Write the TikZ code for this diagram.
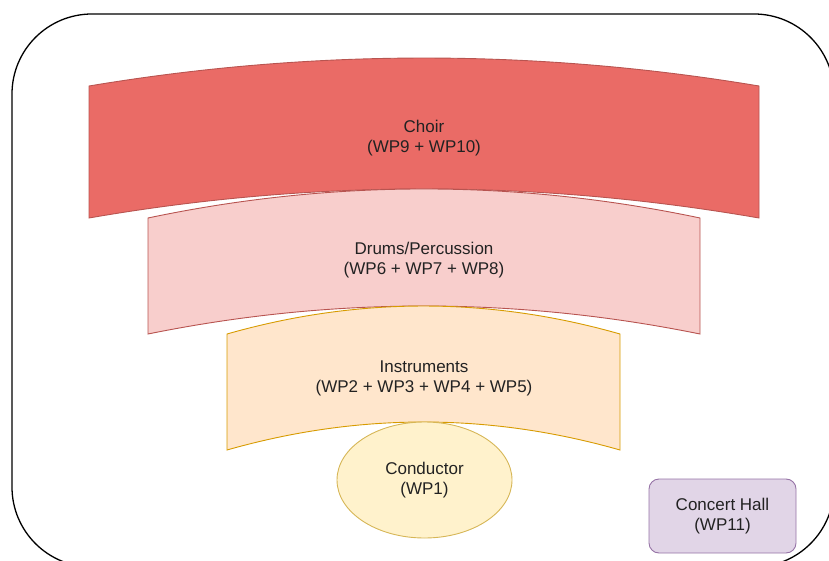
\documentclass[tikz,border=0pt]{standalone}
\usepackage{fontspec}
\setmainfont{Liberation Sans}
\usetikzlibrary{shapes.geometric}
\definecolor{choirfill}{HTML}{EA6B66}
\definecolor{choirline}{HTML}{B85450}
\definecolor{drumfill}{HTML}{F8CECC}
\definecolor{drumline}{HTML}{B85450}
\definecolor{instfill}{HTML}{FFE6CC}
\definecolor{instline}{HTML}{D79B00}
\definecolor{condfill}{HTML}{FFF2CC}
\definecolor{condline}{HTML}{D6B656}
\definecolor{hallfill}{HTML}{E1D5E7}
\definecolor{hallline}{HTML}{9673A6}
\definecolor{txt}{HTML}{222222}
\tikzset{
  lbl/.style={align=center, text=txt, font=\fontsize{17}{20}\selectfont, inner sep=0pt},
  band/.style={line width=0.9pt, line join=miter},
}
\begin{document}
\begin{tikzpicture}[x=1pt,y=-1pt]
\useasboundingbox (0,0) rectangle (829,561);
\clip (0,0) rectangle (829,561);
% outer frame
\draw[line width=1.3pt, rounded corners=80pt] (12,14) rectangle (834,567);
% choir
\draw[band, fill=choirfill, draw=choirline]
  (89,86) .. controls (312.3,48.7) and (535.7,48.7) .. (759,86)
  -- (759,218) .. controls (535.7,179.3) and (312.3,179.3) .. (89,218) -- cycle;
% drums
\draw[band, fill=drumfill, draw=drumline]
  (148,218) .. controls (332,179.3) and (516,179.3) .. (700,218)
  -- (700,334) .. controls (516,296.7) and (332,296.7) .. (148,334) -- cycle;
% instruments
\draw[band, fill=instfill, draw=instline]
  (227,334) .. controls (358,296.7) and (489,296.7) .. (620,334)
  -- (620,450) .. controls (489,412.7) and (358,412.7) .. (227,450) -- cycle;
% labels
\node[lbl] (choir) at (424,138) {Choir\\(WP9 + WP10)};
\node[lbl] (drums) at (424,260) {Drums/Percussion\\(WP6 + WP7 + WP8)};
\node[lbl] (inst) at (424,378) {Instruments\\(WP2 + WP3 + WP4 + WP5)};
\node[ellipse, draw=condline, fill=condfill, line width=0.9pt,
      minimum width=175pt, minimum height=116pt, inner sep=0pt] (cond) at (424.5,480) {};
\node[lbl] (condtext) at (cond.center) {Conductor\\(WP1)};
\node[rectangle, rounded corners=10pt, draw=hallline, fill=hallfill, line width=0.9pt,
      minimum width=147pt, minimum height=74pt, inner sep=0pt] (hall) at (722.5,516) {};
\node[lbl] (halltext) at (hall.center) {Concert Hall\\(WP11)};
\end{tikzpicture}
\end{document}
